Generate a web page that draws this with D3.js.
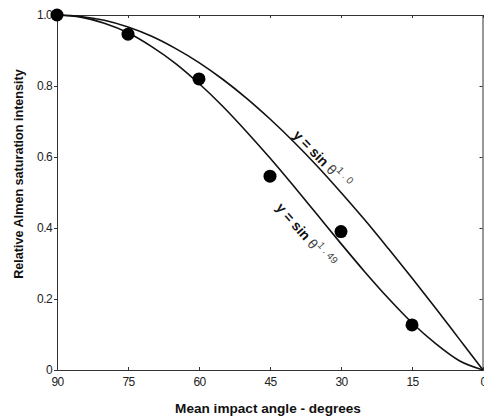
<!DOCTYPE html>
<html>
<head>
<meta charset="utf-8">
<script src="https://cdn.jsdelivr.net/npm/d3@7"></script>
<style>
  body { margin: 0; background: #fff; }
  svg { display: block; }
  .tick text { font-family: "Liberation Sans Narrow", "Liberation Sans", Arial, sans-serif; font-size: 12px; letter-spacing: -0.6px; fill: #222; }
  .axis-title { font-family: "Liberation Sans", Arial, sans-serif; font-weight: bold; fill: #111; }
  .curve-label { font-family: "Liberation Sans", Arial, sans-serif; font-size: 14px; font-weight: bold; fill: #111; }
</style>
</head>
<body>
<svg id="chart" width="484" height="420"></svg>
<script>
// Measured points (angle in degrees, relative intensity)
const pointAngles = [90, 75, 60, 45, 30, 15];
const pointValues = [1.0, 0.946, 0.82, 0.546, 0.39, 0.127];

// Curves, every 5 degrees
const curveAngles = [90, 85, 80, 75, 70, 65, 60, 55, 50, 45, 40, 35, 30, 25, 20, 15, 10, 5, 0];
const curveSin10 = [1.0, 0.996, 0.985, 0.966, 0.94, 0.906, 0.866, 0.819, 0.766, 0.707, 0.643, 0.574, 0.5, 0.423, 0.342, 0.259, 0.174, 0.087, 0];
const curveSin149 = [1.0, 0.994, 0.977, 0.95, 0.911, 0.864, 0.807, 0.743, 0.672, 0.597, 0.518, 0.437, 0.356, 0.277, 0.202, 0.133, 0.074, 0.026, 0];

// Tick labels
const xTicks = [90, 75, 60, 45, 30, 15, 0];
const yTicks = [0, 0.2, 0.4, 0.6, 0.8, 1.0];

const svg = d3.select('#chart');
const margin = {top: 15, right: 1, bottom: 50, left: 57};
const W = 484, H = 420;

const x = d3.scaleLinear().domain([90, 0]).range([margin.left, W - margin.right]);
const y = d3.scaleLinear().domain([0, 1]).range([H - margin.bottom, margin.top]);

const yFmt = d => d === 0 ? '0' : d3.format('.1f')(d);

// Bottom axis
const gx = svg.append('g')
    .attr('transform', `translate(0,${y(0)})`)
    .call(d3.axisBottom(x).tickValues(xTicks).tickSize(-3).tickPadding(7).tickFormat(d3.format('d')));

// Left axis
const gy = svg.append('g')
    .attr('transform', `translate(${x(90)},0)`)
    .call(d3.axisLeft(y).tickValues(yTicks).tickSize(3).tickPadding(2).tickFormat(yFmt));

// Top and right frame with inward ticks
const gt = svg.append('g')
    .attr('transform', `translate(0,${y(1)})`)
    .call(d3.axisTop(x).tickValues(xTicks).tickSize(-3).tickFormat(''));
const gr = svg.append('g')
    .attr('transform', `translate(${x(0) - 0.5},0)`)
    .call(d3.axisRight(y).tickValues(yTicks).tickSize(-3).tickFormat(''));

[gx, gy, gt, gr].forEach(g => {
    g.select('.domain').attr('stroke', '#333').attr('stroke-width', 1);
    g.selectAll('.tick line').attr('stroke', '#333');
});

// Curves
const line = d3.line()
    .x(d => x(d[0]))
    .y(d => y(d[1]))
    .curve(d3.curveMonotoneX);

[curveSin10, curveSin149].forEach(vals => {
    svg.append('path')
        .datum(curveAngles.map((a, i) => [a, vals[i]]))
        .attr('d', line)
        .attr('fill', 'none')
        .attr('stroke', '#111')
        .attr('stroke-width', 1.6);
});

// Points
svg.selectAll('.pt')
    .data(pointAngles.map((a, i) => [a, pointValues[i]]))
    .enter()
    .append('circle')
    .attr('class', 'pt')
    .attr('cx', d => x(d[0]))
    .attr('cy', d => y(d[1]))
    .attr('r', 6.5)
    .attr('fill', '#000');

// Curve labels
function curveLabel(angle, value, rot, exp) {
    const t = svg.append('text')
        .attr('class', 'curve-label')
        .attr('transform', `translate(${x(angle)},${y(value)}) rotate(${rot})`);
    t.append('tspan').text('y = sin ');
    t.append('tspan').attr('font-weight', 'normal').attr('font-size', 14).attr('fill', '#444').text('θ');
    t.append('tspan').attr('font-weight', 'normal').attr('font-size', 10).attr('fill', '#444').attr('dy', -7).text(exp);
}
curveLabel(40.3, 0.66, 46, '1 . 0');
curveLabel(43.9, 0.456, 49, '1 . 49');

// Axis titles
svg.append('text')
    .attr('class', 'axis-title')
    .attr('font-size', 13.6)
    .attr('text-anchor', 'middle')
    .attr('x', 268)
    .attr('y', 413)
    .text('Mean impact angle - degrees');

svg.append('text')
    .attr('class', 'axis-title')
    .attr('font-size', 12.6)
    .attr('text-anchor', 'middle')
    .attr('transform', `translate(23,174) rotate(-90)`)
    .text('Relative Almen saturation intensity');
</script>
</body>
</html>
